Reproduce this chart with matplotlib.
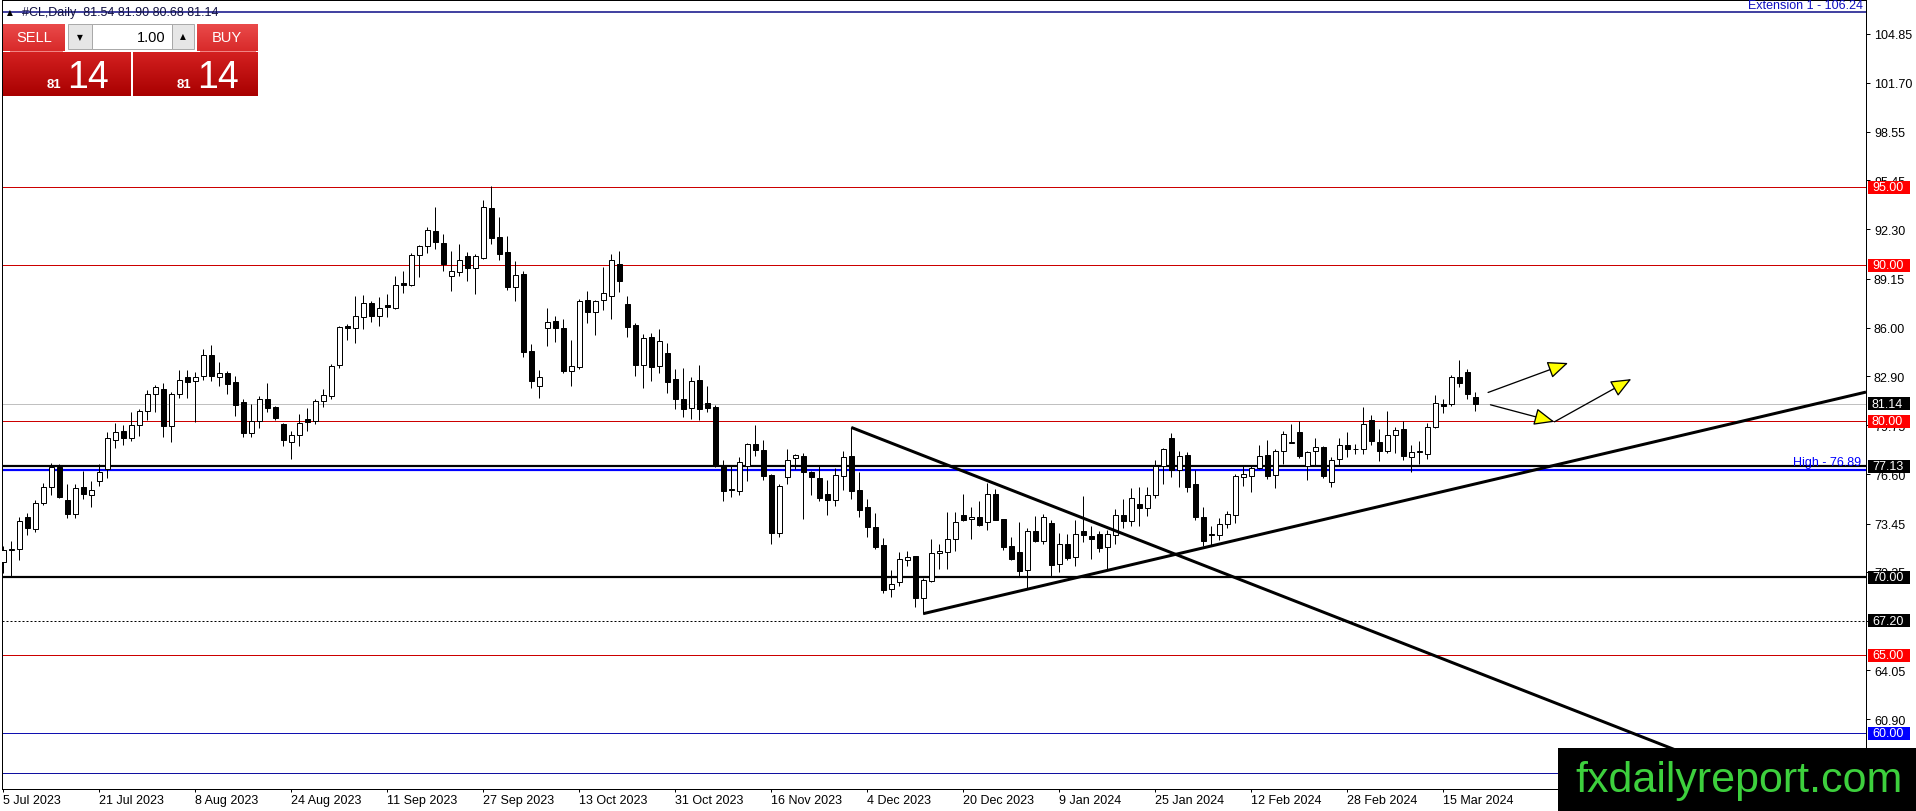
import matplotlib
matplotlib.use('Agg')
import matplotlib.pyplot as plt
import matplotlib.patches as mpatches
import matplotlib.transforms as mtransforms
from matplotlib.colors import LinearSegmentedColormap
import numpy as np

plt.rcParams['font.family'] = ['Liberation Sans', 'DejaVu Sans']

# ---------------- data (daily candles, #CL) ----------------
opens = [71.00, 71.78, 71.82, 73.88, 73.11, 74.79, 75.82, 77.10, 74.96, 74.08,
         75.82, 75.28, 76.18, 76.97, 78.82, 79.36, 78.90, 79.79, 80.64, 81.74,
         82.08, 79.72, 81.74, 82.83, 82.58, 82.90, 84.23, 82.83, 83.11, 82.51,
         81.22, 79.23, 80.04, 81.41, 80.90, 79.85, 78.70, 79.10, 80.15, 80.00,
         81.28, 81.65, 83.61, 86.09, 85.96, 86.67, 87.56, 86.77, 87.46, 87.24,
         88.85, 88.76, 90.68, 91.22, 92.20, 91.41, 89.29, 89.55, 90.58, 89.85,
         90.45, 93.68, 91.80, 90.83, 88.63, 89.44, 84.49, 82.29, 85.96, 86.41,
         85.96, 83.20, 83.50, 87.78, 86.99, 87.80, 88.01, 90.09, 87.52, 86.20,
         83.63, 85.38, 83.53, 84.38, 82.71, 81.43, 80.88, 82.66, 81.18, 80.90,
         77.11, 75.65, 75.55, 77.15, 78.54, 78.16, 76.55, 72.87, 76.40, 77.62,
         77.75, 76.72, 76.36, 75.33, 74.97, 76.51, 77.75, 75.59, 74.54, 73.25,
         72.06, 69.27, 69.72, 71.13, 71.39, 68.67, 69.74, 71.56, 71.63, 72.48,
         73.98, 73.75, 73.88, 73.55, 75.31, 73.77, 71.99, 71.63, 70.45, 73.00,
         72.31, 73.49, 70.88, 72.14, 71.31, 73.00, 72.63, 72.80, 71.95, 72.74,
         73.98, 73.64, 74.68, 74.46, 75.28, 77.11, 78.92, 76.90, 77.84, 75.97,
         73.88, 72.70, 72.70, 73.43, 73.99, 76.40, 76.47, 77.00, 77.84, 76.57,
         78.08, 78.64, 79.31, 77.15, 78.08, 78.34, 76.08, 77.58, 78.47, 78.25,
         78.25, 80.11, 78.70, 78.10, 79.11, 79.50, 77.73, 78.04, 77.93, 79.61,
         81.12, 81.08, 82.81, 83.17, 81.54]
highs = [72.00, 72.30, 73.88, 74.10, 74.94, 76.07, 77.30, 77.25, 76.00, 75.97,
         76.82, 76.18, 77.25, 79.33, 79.87, 79.76, 80.58, 80.80, 82.00, 82.34,
         82.47, 81.90, 83.26, 83.30, 83.15, 84.66, 84.90, 83.80, 83.20, 82.90,
         81.44, 81.10, 81.60, 82.47, 80.96, 79.90, 79.40, 80.47, 80.85, 81.43,
         82.07, 83.68, 86.08, 86.24, 88.06, 88.10, 87.74, 87.95, 88.16, 89.34,
         89.66, 90.79, 91.30, 92.44, 93.72, 92.00, 90.90, 91.37, 90.83, 90.73,
         94.19, 95.10, 93.08, 91.86, 90.26, 89.62, 84.96, 83.29, 87.24, 86.77,
         86.56, 85.21, 87.84, 88.35, 87.80, 89.91, 90.73, 90.94, 88.06, 86.28,
         85.60, 85.64, 85.92, 85.02, 83.36, 83.43, 82.83, 83.64, 82.29, 81.05,
         77.52, 77.11, 77.73, 78.59, 79.76, 78.80, 76.62, 75.97, 78.22, 77.90,
         77.97, 76.83, 77.15, 76.23, 77.00, 78.07, 79.61, 76.72, 75.01, 74.11,
         72.55, 70.45, 71.63, 71.71, 71.39, 69.96, 72.48, 72.16, 74.20, 74.20,
         75.31, 74.50, 74.92, 76.06, 75.63, 73.77, 72.59, 73.55, 73.17, 73.92,
         74.07, 73.70, 72.85, 72.78, 73.70, 75.20, 73.32, 72.96, 73.06, 74.35,
         75.03, 75.75, 75.80, 75.80, 77.52, 78.28, 79.27, 78.13, 78.06, 76.87,
         74.50, 73.28, 73.82, 74.25, 76.62, 77.20, 77.20, 78.49, 78.80, 78.23,
         79.35, 79.80, 80.00, 78.13, 78.92, 78.40, 77.69, 78.92, 79.30, 78.53,
         80.91, 80.41, 79.50, 80.65, 79.61, 80.00, 78.49, 78.75, 79.89, 81.66,
         81.45, 82.96, 83.93, 83.33, 81.90]
lows = [70.28, 70.10, 71.10, 72.70, 72.90, 74.64, 75.28, 75.06, 73.78, 73.78,
        75.00, 74.50, 75.86, 76.35, 78.26, 78.50, 78.76, 79.03, 80.10, 80.58,
        79.00, 78.65, 81.50, 81.50, 79.94, 82.68, 82.60, 82.25, 81.76, 80.36,
        79.01, 78.97, 79.60, 80.58, 80.10, 78.40, 77.60, 78.40, 79.40, 79.80,
        80.90, 81.43, 83.42, 85.23, 85.00, 85.92, 86.39, 86.13, 86.70, 87.20,
        88.20, 88.65, 89.23, 90.77, 91.05, 89.66, 88.38, 89.30, 89.02, 88.16,
        90.40, 91.37, 90.36, 88.44, 87.74, 84.15, 82.14, 81.50, 84.85, 85.10,
        83.10, 82.29, 83.35, 86.30, 85.56, 87.16, 86.56, 88.31, 85.38, 82.93,
        82.12, 82.56, 83.08, 81.79, 80.79, 80.26, 80.15, 80.11, 80.58, 77.05,
        74.90, 75.16, 75.27, 76.19, 77.75, 76.23, 72.12, 72.61, 75.97, 76.94,
        73.73, 75.29, 74.90, 74.00, 74.58, 75.61, 75.05, 73.88, 72.59, 71.80,
        69.02, 68.76, 69.44, 70.71, 68.07, 67.67, 69.68, 70.54, 70.54, 71.71,
        73.60, 72.46, 73.32, 73.06, 73.70, 71.78, 71.13, 70.06, 69.31, 72.27,
        72.14, 70.06, 70.34, 71.13, 70.71, 72.25, 71.18, 71.60, 70.49, 72.16,
        73.17, 73.28, 73.32, 73.92, 75.11, 75.97, 76.40, 75.80, 75.50, 73.70,
        71.98, 71.98, 72.40, 73.17, 73.49, 75.86, 75.47, 76.94, 76.30, 75.75,
        77.26, 78.60, 77.65, 76.25, 77.15, 76.34, 75.80, 77.20, 77.69, 77.88,
        77.93, 78.47, 77.45, 77.99, 77.99, 77.50, 76.76, 77.28, 77.56, 79.55,
        80.52, 81.01, 82.20, 81.45, 80.68]
closes = [71.78, 71.82, 73.60, 73.15, 74.79, 75.82, 77.10, 75.15, 74.08, 75.75,
          75.36, 75.62, 76.76, 78.91, 79.29, 78.90, 79.79, 80.64, 81.74, 82.19,
          79.72, 81.76, 82.62, 82.49, 82.83, 84.23, 82.90, 83.11, 82.40, 81.07,
          79.23, 80.04, 81.41, 80.88, 80.21, 78.80, 79.10, 79.90, 79.94, 81.28,
          81.71, 83.57, 86.03, 85.96, 86.73, 87.56, 86.73, 87.24, 87.31, 88.76,
          88.76, 90.68, 91.22, 92.26, 91.47, 90.09, 89.62, 90.34, 89.85, 90.58,
          93.72, 91.75, 90.73, 88.59, 89.40, 84.42, 82.56, 82.82, 86.35, 85.96,
          83.20, 83.53, 87.69, 87.03, 87.69, 88.20, 90.34, 89.02, 86.07, 83.63,
          85.34, 83.50, 85.13, 82.50, 81.45, 80.79, 82.57, 80.79, 80.88, 77.11,
          75.55, 75.60, 77.37, 78.54, 78.18, 76.51, 72.87, 75.87, 77.52, 77.84,
          76.77, 76.40, 75.07, 74.97, 76.55, 77.69, 75.55, 74.33, 73.23, 71.97,
          69.19, 69.59, 71.20, 71.31, 68.67, 69.81, 71.56, 71.71, 72.48, 73.55,
          73.70, 73.88, 73.38, 75.35, 73.70, 71.93, 71.20, 70.39, 72.96, 72.31,
          73.88, 70.81, 72.14, 71.24, 72.78, 72.70, 72.46, 71.88, 72.80, 73.98,
          73.60, 75.11, 74.46, 75.28, 77.11, 78.23, 76.90, 77.76, 75.80, 73.86,
          72.31, 72.78, 73.43, 74.03, 76.47, 76.62, 77.00, 77.76, 76.50, 78.08,
          79.20, 78.68, 77.80, 78.02, 78.34, 76.50, 77.54, 78.51, 78.25, 78.20,
          79.83, 78.75, 78.10, 79.11, 79.44, 77.78, 78.06, 78.08, 79.61, 81.17,
          80.97, 82.85, 82.48, 81.73, 81.14]

date_labels = ["5 Jul 2023", "21 Jul 2023", "8 Aug 2023", "24 Aug 2023", "11 Sep 2023",
               "27 Sep 2023", "13 Oct 2023", "31 Oct 2023", "16 Nov 2023", "4 Dec 2023",
               "20 Dec 2023", "9 Jan 2024", "25 Jan 2024", "12 Feb 2024", "28 Feb 2024",
               "15 Mar 2024"]
date_bar_index = [0, 12, 24, 36, 48, 60, 72, 84, 96, 108, 120, 132, 144, 156, 168, 180]

ytick_values = [104.85, 101.70, 98.55, 95.45, 92.30, 89.15, 86.00, 82.90, 79.75,
                76.60, 73.45, 70.35, 67.20, 64.05, 60.90]

# horizontal levels: price, line colour, width(px), style, label-box colour (None = no box)
level_prices = [106.24, 95.00, 90.00, 81.14, 80.00, 77.13, 76.89, 70.00, 67.20, 65.00, 60.00, 57.48]
level_colors = ['#16168c', '#cc0000', '#cc0000', '#c0c0c0', '#cc0000', '#000000', '#0000ff',
                '#000000', '#000000', '#cc0000', '#1010b0', '#1010a0']
level_widths = [1.6, 1.0, 1.0, 1.0, 1.0, 2.2, 2.2, 2.2, 1.0, 1.0, 1.0, 1.0]
level_styles = ['-', '-', '-', '-', '-', '-', '-', '-', (0, (2, 2)), '-', '-', '-']
level_boxes = [None, '#ff0000', '#ff0000', '#000000', '#ff0000', '#000000', None,
               '#000000', '#000000', '#ff0000', '#0000ff', None]

# trend lines (anchor bar, anchor price) pairs, drawn as rays
trend_x = [[106, 208.1], [115, 169.0]]
trend_y = [[79.61, 59.12], [67.67, 74.18]]

# yellow arrows (start bar, start price, end bar, end price)
arrow_x0 = [185.6, 185.9, 193.9]
arrow_y0 = [81.85, 81.06, 79.97]
arrow_x1 = [195.6, 193.9, 203.5]
arrow_y1 = [83.74, 79.97, 82.71]

# ---------------- figure ----------------
W, H = 1916, 812
fig = plt.figure(figsize=(W / 100, H / 100), dpi=100)
fig.patch.set_facecolor('white')
ax = fig.add_axes([2 / W, 22 / H, 1864 / W, 789 / H])
XMIN, XMAX = -0.16, 232.84
YMIN, YMAX = 56.43, 107.01
ax.set_xlim(XMIN, XMAX)
ax.set_ylim(YMIN, YMAX)
ax.set_facecolor('white')

px = 72 / 100  # one pixel in points

# levels
for p, c, w, s in zip(level_prices, level_colors, level_widths, level_styles):
    ax.axhline(p, color=c, lw=w * px, ls=s, zorder=2)

# candles
o = np.array(opens); h = np.array(highs); l = np.array(lows); c = np.array(closes)
x = np.arange(len(o))
up = c >= o
ax.vlines(x, l, h, color='black', lw=1.0 * px, zorder=3)
bottom = np.minimum(o, c)
height = np.maximum(np.abs(c - o), 0.04)
ax.bar(x, height, bottom=bottom, width=0.58,
       color=np.where(up, 'white', 'black'), edgecolor='black',
       linewidth=1.0 * px, zorder=4)

# trend rays
for tx, ty in zip(trend_x, trend_y):
    slope = (ty[1] - ty[0]) / (tx[1] - tx[0])
    xe = XMAX
    ye = ty[0] + slope * (xe - tx[0])
    ax.plot([tx[0], xe], [ty[0], ye], color='black', lw=3.0 * px, zorder=5,
            solid_capstyle='butt')

# arrows
for xa, ya, xb, yb in zip(arrow_x0, arrow_y0, arrow_x1, arrow_y1):
    ax.annotate('', xy=(xb, yb), xytext=(xa, ya),
                arrowprops=dict(arrowstyle='-|>,head_length=0.9,head_width=0.38',
                                fc='#ffff00', ec='black', lw=1.3 * px,
                                mutation_scale=14, shrinkA=0, shrinkB=0),
                zorder=6)

# axes style
for sp in ax.spines.values():
    sp.set_color('black')
    sp.set_linewidth(1.0 * px)
ax.yaxis.tick_right()
ax.set_yticks(ytick_values)
ax.set_yticklabels([f'{v:.2f}' for v in ytick_values])
ax.tick_params(axis='y', direction='out', length=3.5 * px, width=1.0 * px,
               pad=4.5 * px, labelsize=9, colors='black')
ax.set_xticks(date_bar_index)
ax.set_xticklabels(date_labels)
for lab in ax.get_xticklabels():
    lab.set_ha('left')
ax.tick_params(axis='x', direction='out', length=3 * px, width=1.0 * px,
               pad=2 * px, labelsize=9, colors='black')

# right-side price boxes
blend = mtransforms.blended_transform_factory(ax.transAxes, ax.transData)
ppx = (YMAX - YMIN) / 789.0  # price per pixel
axw = 1864.0
for p, bc in zip(level_prices, level_boxes):
    if bc is None:
        continue
    ax.add_patch(mpatches.Rectangle((1 + 2 / axw, p - 6.5 * ppx), 42 / axw, 13 * ppx,
                                    transform=blend, fc=bc, ec='none', clip_on=False, zorder=7))
    ax.text(1 + 6 / axw, p, f'{p:.2f}', transform=blend, ha='left', va='center',
            color='white', fontsize=9, clip_on=False, zorder=8)

# line descriptions
ax.annotate('Extension 1 - 106.24', xy=(1, 106.24), xycoords=('axes fraction', 'data'),
            xytext=(-3, 1.5), textcoords='offset pixels', ha='right', va='bottom',
            color='#1010c0', fontsize=9, zorder=8)
ax.annotate('High - 76.89', xy=(1, 76.89), xycoords=('axes fraction', 'data'),
            xytext=(-5, 1.5), textcoords='offset pixels', ha='right', va='bottom',
            color='#0000ff', fontsize=9, zorder=8)

# ---------------- overlay (trade panel, header, watermark) ----------------
ov = fig.add_axes([0, 0, 1, 1], zorder=10)
ov.patch.set_alpha(0)
ov.axis('off')


def grad_rect(x0, y0, x1, y1, ctop, cbot, z=11):
    cmap = LinearSegmentedColormap.from_list('g', [ctop, cbot])
    arr = np.linspace(0, 1, 64)[:, None]
    ov.imshow(arr, extent=(x0, x1, y1, y0), aspect='auto', cmap=cmap, zorder=z,
              interpolation='bilinear')


ov.text(7, 13, '▲', fontsize=5.5, color='black', ha='left', va='center',
        family=['DejaVu Sans'], zorder=12)
ov.text(22, 13, '#CL,Daily  81.54 81.90 80.68 81.14', fontsize=9, color='#101040',
        ha='left', va='center', zorder=12)

# buttons
grad_rect(3, 25, 65, 52, '#ea4a4a', '#d82a2a')
grad_rect(197, 25, 258, 52, '#ea4a4a', '#d82a2a')
ov.add_patch(mpatches.Rectangle((68, 25), 24, 25, fc='#e6e6e6', ec='#a8a8a8', lw=0.7, zorder=11))
ov.add_patch(mpatches.Rectangle((92, 25), 80, 25, fc='white', ec='#a8a8a8', lw=0.7, zorder=11))
ov.add_patch(mpatches.Rectangle((172, 25), 22, 25, fc='#e6e6e6', ec='#a8a8a8', lw=0.7, zorder=11))
ov.plot([10, 62], [51.5, 51.5], color='#f08080', lw=0.7, zorder=12)
ov.plot([200, 255], [51.5, 51.5], color='#f08080', lw=0.7, zorder=12)
ov.text(34, 38.5, 'SELL', color='white', fontsize=10.5, ha='center', va='center', zorder=12)
ov.text(227, 38.5, 'BUY', color='white', fontsize=10.5, ha='center', va='center', zorder=12)
ov.text(166, 37.5, '1.00', color='black', fontsize=10.5, ha='right', va='center', zorder=12)
ov.text(80, 38, '▼', color='black', fontsize=5.5, ha='center', va='center',
        family=['DejaVu Sans'], zorder=12)
ov.text(183, 37, '▲', color='black', fontsize=5.5, ha='center', va='center',
        family=['DejaVu Sans'], zorder=12)
# big price boxes
grad_rect(3, 53, 131, 97, '#d42020', '#a80000')
grad_rect(133, 53, 258, 97, '#d42020', '#a80000')
for xs, xb in ((47, 67), (177, 197)):
    ov.text(xs, 87.5, '81', color='white', fontsize=9.5, fontweight='bold',
            ha='left', va='baseline', zorder=12)
    ov.text(xb, 88, '14', color='white', fontsize=27, ha='left', va='baseline', zorder=12)

# watermark
ov.add_patch(mpatches.Rectangle((1558, 749), W - 1558, H - 749, fc='black', ec='none', zorder=20))
ov.text(1575, 792, 'fxdailyreport.com', color='#3dd03d', fontsize=31, ha='left',
        va='baseline', zorder=21)

ov.set_xlim(0, W)
ov.set_ylim(H, 0)

fig.savefig('out.png', dpi=100, facecolor='white')
